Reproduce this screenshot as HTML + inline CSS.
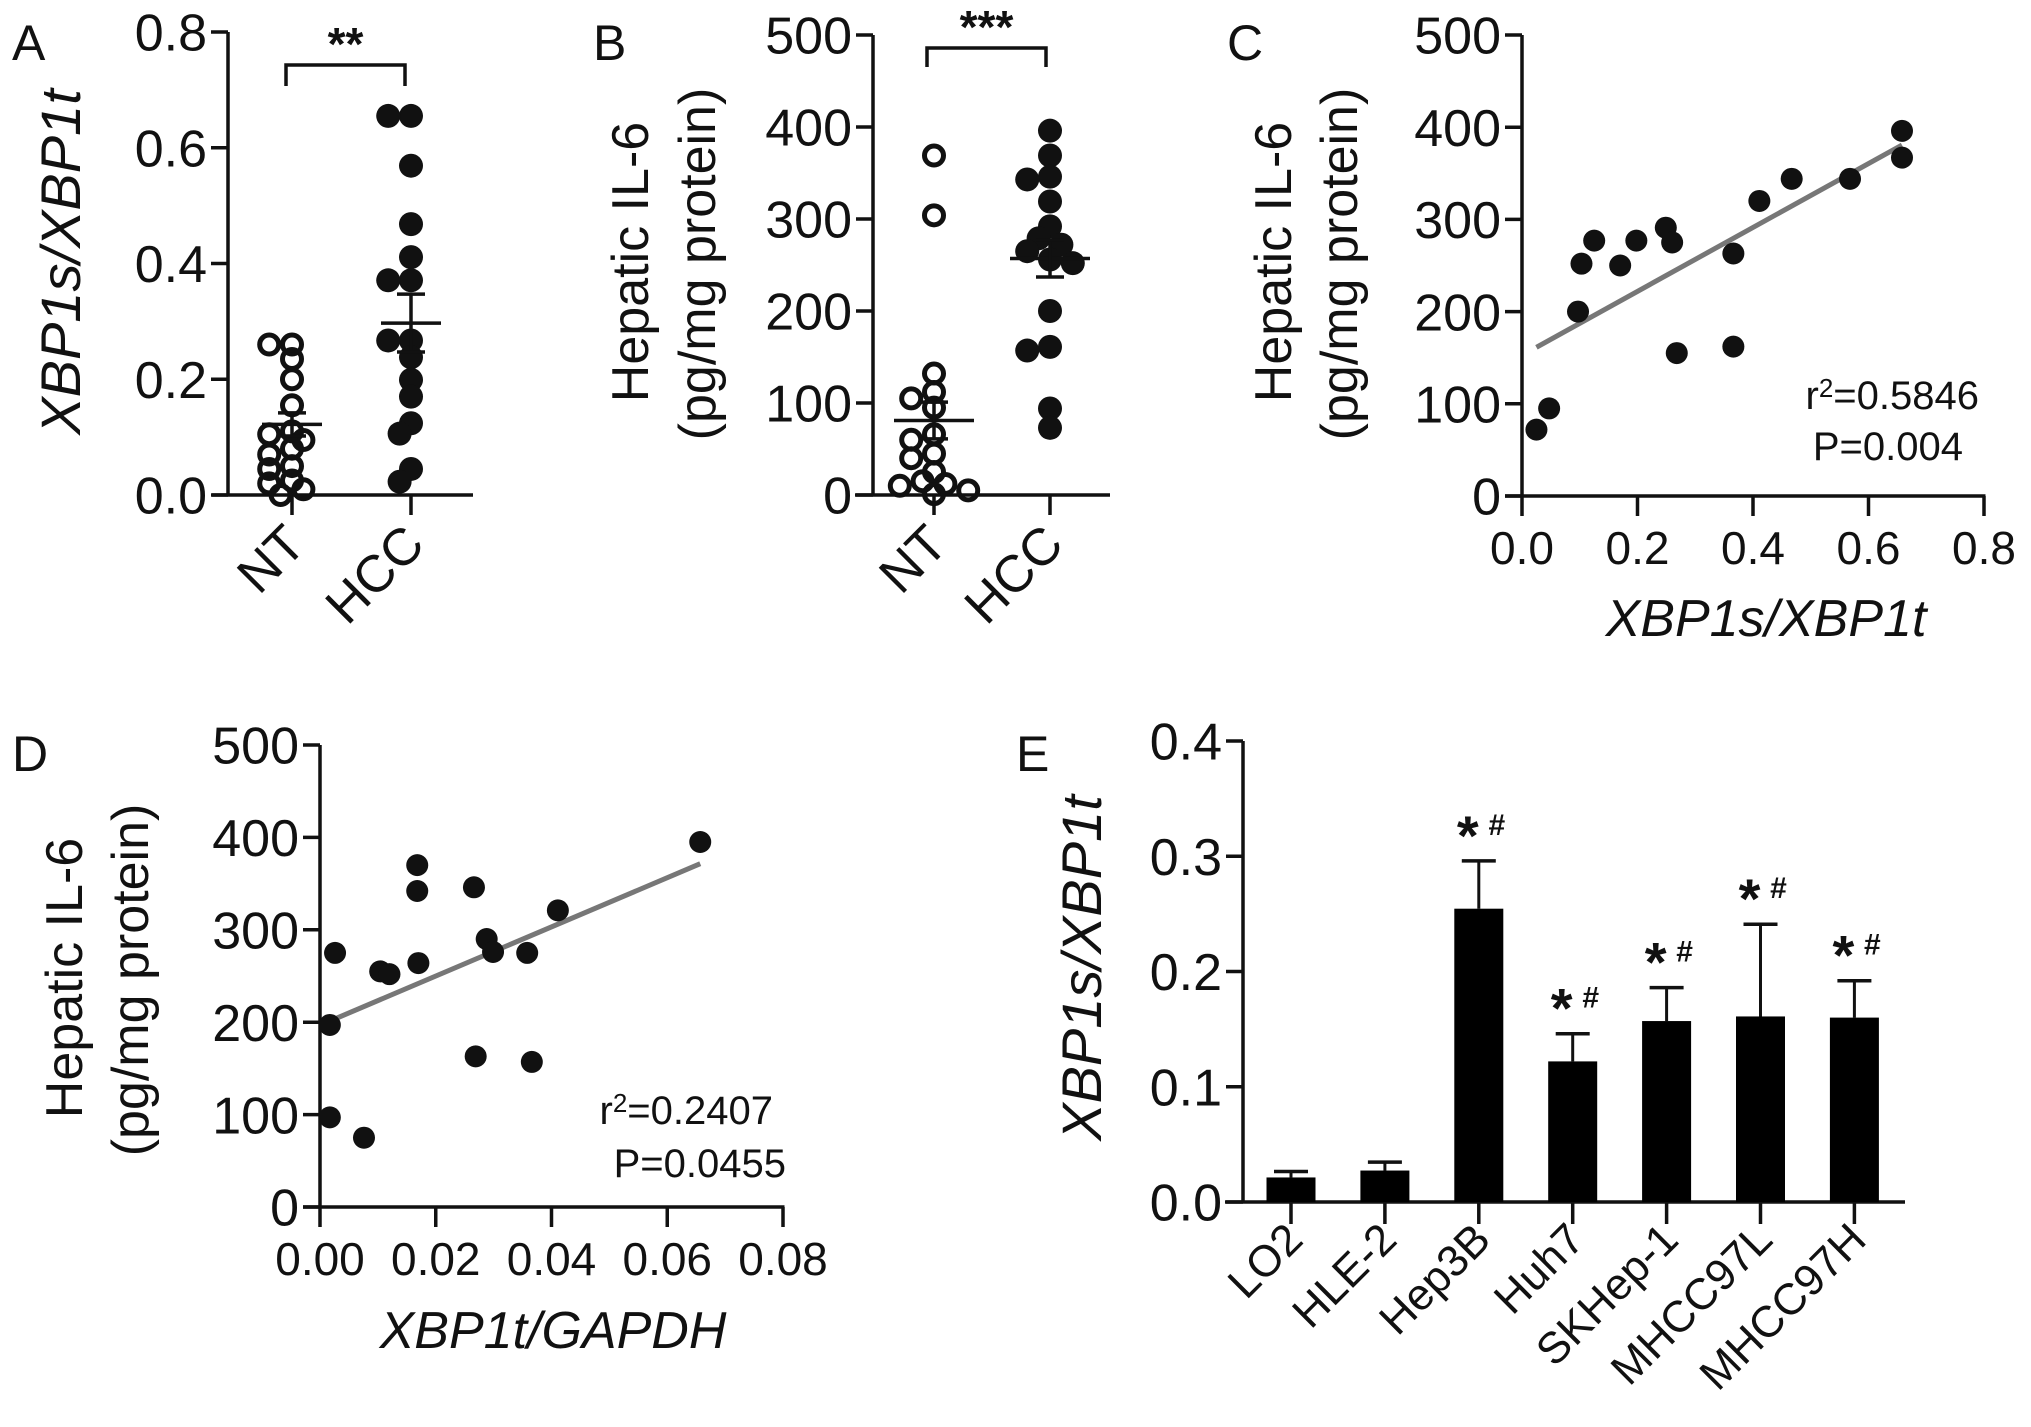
<!DOCTYPE html>
<html><head><meta charset="utf-8"><style>
html,body{margin:0;padding:0;background:#fff;}
svg{display:block;font-family:"Liberation Sans",Arial,sans-serif;}
</style></head><body>
<svg id="fig" width="2031" height="1427" viewBox="0 0 2031 1427" xmlns="http://www.w3.org/2000/svg"></svg>
<script>
// ---------- Data ----------
// Panel A
const aCategories = ["NT","HCC"];
const aNT = [0.26,0.26,0.235,0.2,0.155,0.11,0.105,0.095,0.08,0.07,0.05,0.045,0.025,0.02,0.01,0.0];
const aHCC = [0.655,0.655,0.569,0.468,0.411,0.371,0.371,0.267,0.267,0.238,0.199,0.17,0.124,0.106,0.045,0.023];
const aMeans = [0.122,0.297];
const aSems = [0.02,0.05];
const aTicks = ["0.0","0.2","0.4","0.6","0.8"];
// Panel B
const bCategories = ["NT","HCC"];
const bNT = [369,304,132,112,105,95,66,60,45,40,25,15,12,10,5,1];
const bHCC = [396,369,346,343,319,292,279,272,265,256,252,200,161,157,94,73];
const bMeans = [81,257];
const bSems = [20,20];
const bTicks = ["0","100","200","300","400","500"];
// Panel C
const cX = [0.025,0.047,0.097,0.103,0.125,0.17,0.198,0.249,0.26,0.268,0.366,0.366,0.411,0.467,0.568,0.658,0.658];
const cY = [72,95,200,252,277,250,277,291,275,155,263,162,320,344,344,396,367];
const cXTicks = ["0.0","0.2","0.4","0.6","0.8"];
const cYTicks = ["0","100","200","300","400","500"];
// Panel D
const dX = [0.0017,0.0017,0.0026,0.0076,0.0104,0.012,0.0168,0.0168,0.017,0.0266,0.0269,0.0288,0.0299,0.0358,0.0366,0.0411,0.0657];
const dY = [197,97,275,75,255,252,370,342,264,346,163,290,276,275,157,321,395];
const dXTicks = ["0.00","0.02","0.04","0.06","0.08"];
const dYTicks = ["0","100","200","300","400","500"];
// Panel E
const eCategories = ["LO2","HLE-2","Hep3B","Huh7","SKHep-1","MHCC97L","MHCC97H"];
const eValues = [0.0213,0.0273,0.2545,0.122,0.157,0.161,0.160];
const eErrors = [0.0052,0.0073,0.0415,0.024,0.029,0.080,0.032];
const eSig = [false,false,true,true,true,true,true];
const eTicks = ["0.0","0.1","0.2","0.3","0.4"];

// ---------- Helpers ----------
const svg = document.getElementById('fig');
const NS = "http://www.w3.org/2000/svg";
function mk(tag, attrs, parent){
  const e = document.createElementNS(NS, tag);
  for (const k in attrs) e.setAttribute(k, attrs[k]);
  (parent||svg).appendChild(e);
  return e;
}
function grp(name){
  const g = mk('g', {});
  
  
  return g;
}
function ln(p,x1,y1,x2,y2,w,c){ return mk('line',{x1:x1,y1:y1,x2:x2,y2:y2,stroke:c||'#111','stroke-width':w||3.5,'stroke-linecap':'butt'},p); }
function tx(p,x,y,s,size,anchor,extra){
  const t = mk('text',Object.assign({x:x,y:y,'font-size':size,'text-anchor':anchor||'middle',fill:'#111'},extra||{}),p);
  t.textContent = s; return t;
}
function yAxis(p, x, y0, y1, ticks, size, name){
  const g = mk('g',{},p);
  
  
  ln(g,x,y0+1.5,x,y1,3.5);
  ticks.forEach((t,i)=>{
    const y = y0 + (y1-y0)*i/(ticks.length-1);
    ln(g,x-17,y,x,y,3.5);
    const lab = tx(g,x-21,y+size*0.36,t,size,'end');
    
    
  });
}
function panelLabel(x,y,s){
  const t = tx(svg,x,y,s,50,'start');
  
  
}
function rotTitle(p,cx,cy,s,size,italic,name){
  const t = tx(p,cx,cy,s,size,'middle',{transform:'rotate(-90 '+cx+' '+cy+')','font-style':italic?'italic':'normal'});
  
  
  return t;
}
function swarm(vals, scaleY, cx, r){
  const placed=[]; const out=[];
  const idx = vals.map((v,i)=>i).sort((a,b)=>vals[b]-vals[a]);
  idx.forEach(i=>{
    const y = scaleY(vals[i]);
    const cands=[0];
    for(let k=1;k<=3;k++){cands.push(-k*r*0.95);cands.push(k*r*0.95);}
    let best=cx, bestD=-1;
    for(const o of cands){
      const d = placed.length?Math.min(...placed.map(p=>Math.hypot(p[0]-(cx+o),p[1]-y))):1e9;
      if(d>=r*1.1){best=cx+o;bestD=d;break;}
      if(d>bestD){bestD=d;best=cx+o;}
    }
    placed.push([best,y]); out[i]=[best,y];
  });
  return out;
}
function fit(xs,ys){
  const n=xs.length; const mx=xs.reduce((a,b)=>a+b)/n; const my=ys.reduce((a,b)=>a+b)/n;
  let sxy=0,sxx=0; for(let i=0;i<n;i++){sxy+=(xs[i]-mx)*(ys[i]-my);sxx+=(xs[i]-mx)**2;}
  const m=sxy/sxx; return [m, my-m*mx];
}

// ---------- Dot plot panels (A, B) ----------
function dotPanel(cfg){
  const g = grp(cfg.name);
  const sy = v => cfg.y0 - (v - 0)/cfg.max*(cfg.y0-cfg.y1);
  yAxis(g, cfg.ax, cfg.y0, cfg.y1, cfg.ticks, 52, cfg.name+'-y-axis');
  ln(g, cfg.xa0, cfg.y0, cfg.xa1, cfg.y0, 3.5);
  cfg.cats.forEach((c,i)=>{
    const x = cfg.cx[i];
    ln(g,x,cfg.y0,x,cfg.y0+20,3.5);
    const t = tx(g,x+16,cfg.y0+52,c,52,'end',{transform:'rotate(-45 '+(x+16)+' '+(cfg.y0+52)+')'});
    
    
  });
  const r=12;
  [cfg.nt, cfg.hcc].forEach((vals,gi)=>{
    const pts = swarm(vals, sy, cfg.cx[gi], r);
    pts.forEach(p=>{
      const c = mk('circle',{cx:p[0],cy:p[1],r:gi===0?r-2.5:r,fill:gi===0?'none':'#111',stroke:'#111','stroke-width':gi===0?5:0},g);
      
      
    });
  });
  cfg.means.forEach((m,i)=>{
    const x=cfg.cx[i], ym=sy(m), yt=sy(m+cfg.sems[i]), yb=sy(m-cfg.sems[i]);
    const eg = mk('g',{},g);
    
    
    ln(eg,x-cfg.mw,ym,x+cfg.mw,ym,3.5);
    ln(eg,x,yt,x,yb,3.5);
    ln(eg,x-14,yt,x+14,yt,3.5);
    ln(eg,x-14,yb,x+14,yb,3.5);
  });
  const bg = mk('g',{},g);
  
  
  mk('polyline',{points:cfg.br[0]+','+cfg.br[3]+' '+cfg.br[0]+','+cfg.br[2]+' '+cfg.br[1]+','+cfg.br[2]+' '+cfg.br[1]+','+cfg.br[3],fill:'none',stroke:'#111','stroke-width':3.5},bg);
  tx(bg,(cfg.br[0]+cfg.br[1])/2,cfg.br[2]-5,cfg.stars,46,'middle',{'font-weight':'bold'});
}
dotPanel({name:'panel-a',ax:228,y0:495,y1:32,max:0.8,ticks:aTicks,xa0:212,xa1:473,cx:[292,411],cats:aCategories,
  nt:aNT,hcc:aHCC,means:aMeans,sems:aSems,mw:30,br:[286,405,65,86],stars:'**'});
dotPanel({name:'panel-b',ax:873,y0:495,y1:35,max:500,ticks:bTicks,xa0:855,xa1:1110,cx:[934,1050],cats:bCategories,
  nt:bNT,hcc:bHCC,means:bMeans,sems:bSems,mw:40,br:[927,1046,48,67],stars:'***'});
panelLabel(12,60,'A');
panelLabel(593,60,'B');
rotTitle(svg,80,262,'XBP1s/XBP1t',56,true,'panel-a-y-axis-title');
rotTitle(svg,648,262,'Hepatic IL-6',52,false,'panel-b-y-axis-title-line1');
rotTitle(svg,715,264,'(pg/mg protein)',52,false,'panel-b-y-axis-title-line2');

// ---------- Scatter panels (C, D) ----------
function scatterPanel(cfg){
  const g = grp(cfg.name);
  const sx = v => cfg.x0 + v/cfg.xmax*(cfg.x1-cfg.x0);
  const sy = v => cfg.y0 - v/cfg.ymax*(cfg.y0-cfg.y1);
  yAxis(g, cfg.x0, cfg.y0, cfg.y1, cfg.yticks, 52, cfg.name+'-y-axis');
  const xg = mk('g',{},g);
  
  
  ln(xg,cfg.x0-17,cfg.y0,cfg.x1+1.5,cfg.y0,3.5);
  cfg.xticks.forEach((t,i)=>{
    const x = cfg.x0+(cfg.x1-cfg.x0)*i/(cfg.xticks.length-1);
    ln(xg,x,cfg.y0,x,cfg.y0+20,3.5);
    tx(xg,x,cfg.y0+68,t,cfg.xs,'middle');
  });
  const [m,b] = fit(cfg.xs_,cfg.ys_);
  const xmin=Math.min(...cfg.xs_), xmax=Math.max(...cfg.xs_);
  const rl = ln(g,sx(xmin),sy(m*xmin+b),sx(xmax),sy(m*xmax+b),5,'#777');
  
  
  cfg.xs_.forEach((x,i)=>{
    const c = mk('circle',{cx:sx(x),cy:sy(cfg.ys_[i]),r:11,fill:'#111'},g);
    
    
  });
  const st = mk('g',{},g);
  
  
  const t1 = mk('text',{x:cfg.r2x,y:cfg.r2y,'font-size':40,'text-anchor':'end',fill:'#111'},st);
  const s1 = mk('tspan',{},t1); s1.textContent='r';
  const s2 = mk('tspan',{dy:-12,'font-size':26},t1); s2.textContent='2';
  const s3 = mk('tspan',{dy:12},t1); s3.textContent='='+cfg.r2;
  tx(st,cfg.px,cfg.py,'P='+cfg.p,40,'end');
  tx(g,cfg.xtx,cfg.xty,cfg.xtitle,52,'middle',{'font-style':'italic'});
}
scatterPanel({name:'panel-c',x0:1522,x1:1984,y0:496,y1:35,xmax:0.8,ymax:500,xticks:cXTicks,yticks:cYTicks,xs:46,
  xs_:cX,ys_:cY,r2:'0.5846',p:'0.004',r2x:1979,r2y:409,px:1963,py:460,xtitle:'XBP1s/XBP1t',xtx:1766,xty:636});
scatterPanel({name:'panel-d',x0:320,x1:783,y0:1207,y1:745,xmax:0.08,ymax:500,xticks:dXTicks,yticks:dYTicks,xs:46,
  xs_:dX,ys_:dY,r2:'0.2407',p:'0.0455',r2x:773,r2y:1124,px:786,py:1177,xtitle:'XBP1t/GAPDH',xtx:553,xty:1348});
panelLabel(1227,60,'C');
panelLabel(12,771,'D');
rotTitle(svg,1291,262,'Hepatic IL-6',52,false,'panel-c-y-axis-title-line1');
rotTitle(svg,1357,264,'(pg/mg protein)',52,false,'panel-c-y-axis-title-line2');
rotTitle(svg,82,978,'Hepatic IL-6',52,false,'panel-d-y-axis-title-line1');
rotTitle(svg,148,980,'(pg/mg protein)',52,false,'panel-d-y-axis-title-line2');

// ---------- Bar panel (E) ----------
(function(){
  const g = grp('panel-e');
  const x0=1243, y0=1202, y1=741, ymax=0.4;
  const sy = v => y0 - v/ymax*(y0-y1);
  const bx = i => 1291 + i*93.9;
  yAxis(g,x0,y0,y1,eTicks,52,'panel-e-y-axis');
  ln(g,1225,y0,1905,y0,3.5);
  eCategories.forEach((c,i)=>{
    const x=bx(i);
    const eb = mk('g',{},g);
    
    
    const top=sy(eValues[i]+eErrors[i]);
    ln(eb,x,sy(eValues[i]),x,top,3);
    ln(eb,x-17,top,x+17,top,3.5);
    mk('rect',{x:x-24.5,y:sy(eValues[i]),width:49,height:y0-sy(eValues[i]),fill:'#000'},eb);
    ln(g,x,y0,x,y0+22,3.5);
    const lx=x+14, ly=y0+40;
    const t = tx(g,lx,ly,c,44,'end',{transform:'rotate(-45 '+lx+' '+ly+')'});
    
    
    if(eSig[i]){
      const sg = mk('g',{},g);
      
      
      tx(sg,x-11,top+16-22,'*',56,'middle',{'font-weight':'bold'});
      tx(sg,x+18,top-26,'#',30,'middle',{'font-weight':'bold'});
    }
  });
})();
panelLabel(1016,771,'E');
rotTitle(svg,1101,968,'XBP1s/XBP1t',56,true,'panel-e-y-axis-title');
</script>
</body></html>
